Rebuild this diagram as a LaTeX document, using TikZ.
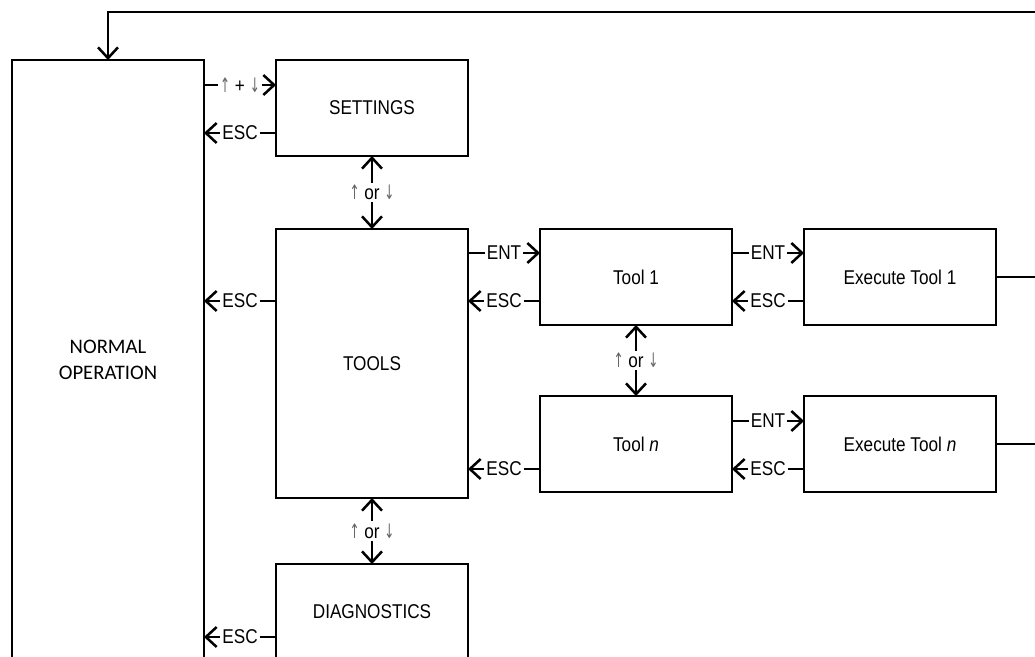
\documentclass[tikz,border=0pt]{standalone}
\usepackage{fontspec}
\setmainfont{Liberation Sans}[FakeStretch=0.86]
\newfontfamily\calfont{Carlito}
\newfontfamily\arrowfont{DejaVu Sans}[FakeStretch=0.6]
\usetikzlibrary{arrows.meta,positioning}
\newcommand{\keyup}{{\arrowfont\color{black!60}↑}}
\newcommand{\keydown}{{\arrowfont\color{black!60}↓}}

\begin{document}
\begin{tikzpicture}[
  font=\fontsize{14.2}{16}\selectfont,
  box/.style={draw, line width=1.8pt, minimum width=4.8cm, minimum height=2.4cm, inner sep=0pt, outer sep=0pt, align=center},
  con/.style={line width=1.8pt, -{Straight Barb[length=2.7mm,width=5mm]}},
  dcon/.style={line width=1.8pt, {Straight Barb[length=2.7mm,width=5mm]}-{Straight Barb[length=2.7mm,width=5mm]}},
  line/.style={line width=1.8pt},
  lbl/.style={fill=white, inner sep=1.5pt}
]
\useasboundingbox (0,0) rectangle (25.875,-16.4);
\clip (0,0) rectangle (25.875,-16.4);
% menu boxes
\node[box, anchor=north west, minimum height=15cm, font=\calfont\fontsize{14.7}{18.5}\selectfont] (normal) at (0.3,-1.5) {NORMAL\\OPERATION};
\node[box, right=1.8cm of normal.north east, anchor=north west] (settings) {SETTINGS};
\node[box, below=1.825cm of settings, minimum height=6.725cm] (tools) {TOOLS};
\node[box, below=1.65cm of tools] (diag) {DIAGNOSTICS};
\node[box, right=1.8cm of tools.north east, anchor=north west] (tool1) {Tool 1};
\node[box, below=1.775cm of tool1] (tooln) {Tool \textit{n}};
\node[box, right=1.8cm of tool1] (exec1) {Execute Tool 1};
\node[box, right=1.8cm of tooln] (execn) {Execute Tool \textit{n}};
\coordinate (redge) at (26.5,-0.3);
% key presses
\draw[con] ([yshift=-0.625cm]normal.north east) coordinate (s) -- node[lbl]{\keyup{} + \keydown} (s -| settings.west);
\draw[con] ([yshift=-1.825cm]settings.north west) coordinate (s) -- node[lbl]{ESC} (s -| normal.east);
\draw[dcon] (settings.south) -- node[lbl]{\keyup{} or \keydown} (tools.north);
\draw[con] ([yshift=-1.8cm]tools.north west) coordinate (s) -- node[lbl]{ESC} (s -| normal.east);
\draw[dcon] (tools.south) -- node[lbl]{\keyup{} or \keydown} (diag.north);
\draw[con] ([yshift=-1.825cm]diag.north west) coordinate (s) -- node[lbl]{ESC} (s -| normal.east);
% tools submenu
\draw[con] ([yshift=-0.6cm]tools.north east) coordinate (s) -- node[lbl]{ENT} (s -| tool1.west);
\draw[con] ([yshift=-1.8cm]tool1.north west) coordinate (s) -- node[lbl]{ESC} (s -| tools.east);
\draw[dcon] (tool1.south) -- node[lbl]{\keyup{} or \keydown} (tooln.north);
\draw[con] ([yshift=-1.825cm]tooln.north west) coordinate (s) -- node[lbl]{ESC} (s -| tools.east);
\draw[con] ([yshift=-0.6cm]tool1.north east) coordinate (s) -- node[lbl]{ENT} (s -| exec1.west);
\draw[con] ([yshift=-1.8cm]exec1.north west) coordinate (s) -- node[lbl]{ESC} (s -| tool1.east);
\draw[con] ([yshift=-0.625cm]tooln.north east) coordinate (s) -- node[lbl]{ENT} (s -| execn.west);
\draw[con] ([yshift=-1.825cm]execn.north west) coordinate (s) -- node[lbl]{ESC} (s -| tooln.east);
% return path
\draw[line] (exec1.east) -- (exec1.east -| redge);
\draw[line] (execn.east) -- (execn.east -| redge);
\draw[con] (redge) -| (normal.north);
\end{tikzpicture}
\end{document}
